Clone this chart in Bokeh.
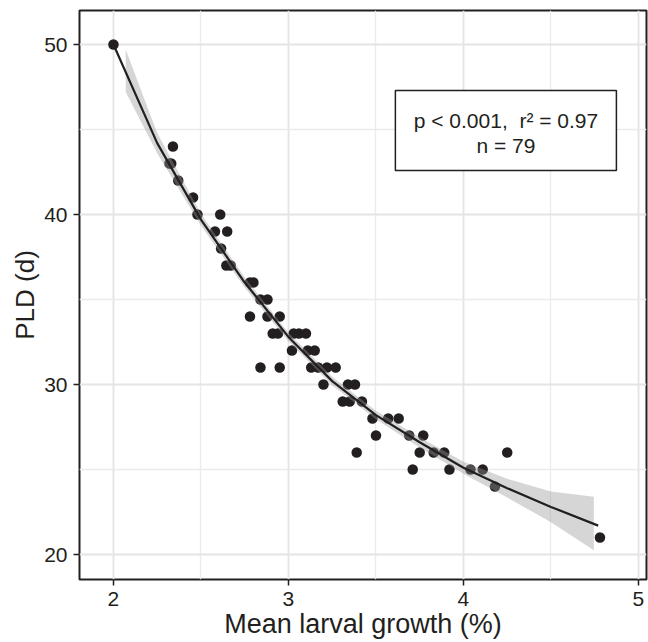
from bokeh.plotting import figure
from bokeh.models import Range1d, FixedTicker, Label, BoxAnnotation, ColumnDataSource
from bokeh.embed import file_html
from bokeh.resources import INLINE

# ---- data ----
growth = [2.00, 2.34, 2.32, 2.33, 2.37, 2.455, 2.48, 2.61, 2.58, 2.65, 2.615,
          2.645, 2.67, 2.78, 2.80, 2.84, 2.88, 2.78, 2.88, 2.95,
          2.91, 2.94, 3.03, 3.06, 3.10, 3.02, 3.11, 3.15,
          2.84, 2.95, 3.13, 3.17, 3.22, 3.27, 3.20, 3.34, 3.38,
          3.31, 3.35, 3.42, 3.48, 3.57, 3.63, 3.50, 3.69, 3.77,
          3.39, 3.75, 3.83, 3.89, 4.25, 3.71, 3.92, 4.04, 4.11, 4.18, 4.78]
pld = [50, 44, 43, 43, 42, 41, 40, 40, 39, 39, 38,
       37, 37, 36, 36, 35, 35, 34, 34, 34,
       33, 33, 33, 33, 33, 32, 32, 32,
       31, 31, 31, 31, 31, 31, 30, 30, 30,
       29, 29, 29, 28, 28, 28, 27, 27, 27,
       26, 26, 26, 26, 26, 25, 25, 25, 25, 24, 21]

fit_x = [2.00, 2.25, 2.50, 2.75, 3.00, 3.25, 3.50, 3.75, 4.00, 4.25, 4.50, 4.77]
fit_y = [50.0, 44.2, 39.7, 36.0, 32.8, 30.2, 28.2, 26.6, 25.1, 23.9, 22.8, 21.7]

band_x = [2.07, 2.25, 2.50, 2.75, 3.00, 3.25, 3.50, 3.75, 4.00, 4.25, 4.50, 4.745]
band_lo = [47.2, 43.6, 39.35, 35.7, 32.55, 29.95, 27.95, 26.3, 24.75, 23.35, 21.9, 20.25]
band_hi = [49.7, 44.8, 40.05, 36.3, 33.05, 30.45, 28.45, 26.9, 25.45, 24.45, 23.7, 23.4]

x_ticks = [2, 3, 4, 5]
x_minor = [2.5, 3.5, 4.5]
y_ticks = [20, 30, 40, 50]
y_minor = [25, 35, 45]

stat_line1 = "p < 0.001,\u00a0 r\u00b2 = 0.97"
stat_line2 = "n = 79"
x_title = "Mean larval growth (%)"
y_title = "PLD (d)"

INK = "#231f20"
FONT = "Liberation Sans"

p = figure(width=648, height=642, x_range=Range1d(1.806, 5.046),
           y_range=Range1d(18.53, 52.0), output_backend="svg",
           toolbar_location=None, min_border_left=79, min_border_right=2,
           min_border_top=10, min_border_bottom=63)

p.background_fill_color = "white"
p.border_fill_color = "white"
p.outline_line_color = INK
p.outline_line_width = 2

p.xaxis.ticker = FixedTicker(ticks=x_ticks, minor_ticks=x_minor)
p.yaxis.ticker = FixedTicker(ticks=y_ticks, minor_ticks=y_minor)

for g in (p.xgrid, p.ygrid):
    g.grid_line_color = "#e4e4e4"
    g.grid_line_width = 1.8
    g.minor_grid_line_color = "#ebebeb"
    g.minor_grid_line_width = 1.3

for ax in (p.xaxis, p.yaxis):
    ax.axis_line_color = None
    ax.major_tick_line_color = INK
    ax.major_tick_line_width = 1.5
    ax.major_tick_in = 0
    ax.major_tick_out = 6
    ax.minor_tick_line_color = None
    ax.major_label_text_font = FONT
    ax.major_label_text_font_size = "21px"
    ax.major_label_text_color = INK
    ax.axis_label_text_font = FONT
    ax.axis_label_text_font_style = "normal"
    ax.axis_label_text_color = INK

p.xaxis.major_label_standoff = 6
p.yaxis.major_label_standoff = 6

p.xaxis.axis_label = x_title
p.xaxis.axis_label_text_font_size = "27px"
p.xaxis.axis_label_standoff = 0

p.yaxis.axis_label = y_title
p.yaxis.axis_label_text_font_size = "26px"
p.yaxis.axis_label_standoff = 1

src = ColumnDataSource(dict(x=growth, y=pld))
p.scatter("x", "y", source=src, size=10.5, fill_color=INK, line_color=None)

p.varea(x=band_x, y1=band_lo, y2=band_hi, fill_color="#999999", fill_alpha=0.4)
p.line(fit_x, fit_y, line_color=INK, line_width=2.2)

box = BoxAnnotation(left=3.611, right=4.874, bottom=42.59, top=47.29,
                    fill_color="white", fill_alpha=1.0,
                    line_color=INK, line_width=1.5, line_alpha=1.0)
p.add_layout(box)

p.add_layout(Label(x=4.243, y=45.53, text=stat_line1, text_align="center",
                   text_baseline="middle", text_font=FONT,
                   text_font_size="21px", text_color=INK))
p.add_layout(Label(x=4.243, y=44.06, text=stat_line2, text_align="center",
                   text_baseline="middle", text_font=FONT,
                   text_font_size="21px", text_color=INK))

open("out.html", "w").write(file_html(p, INLINE))
